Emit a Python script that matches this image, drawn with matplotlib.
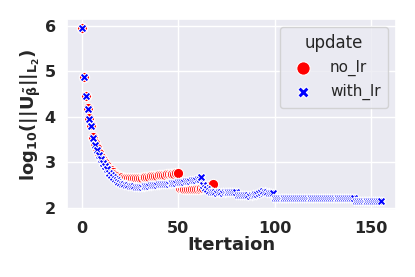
import matplotlib
matplotlib.use("Agg")
import matplotlib.pyplot as plt
import seaborn as sns

no_lr = [5.95, 4.88, 4.46, 4.18, 3.97, 3.82, 3.56, 3.42, 3.30, 3.20,
         3.12, 3.04, 2.97, 2.91, 2.86, 2.82, 2.78, 2.75, 2.72, 2.70,
         2.68, 2.67, 2.66, 2.66, 2.65, 2.65, 2.65, 2.65, 2.66, 2.66,
         2.66, 2.66, 2.67, 2.67, 2.68, 2.68, 2.69, 2.69, 2.70, 2.70,
         2.71, 2.71, 2.72, 2.72, 2.73, 2.73, 2.74, 2.74, 2.75, 2.76,
         2.77, 2.43, 2.43, 2.42, 2.42, 2.42, 2.41, 2.41, 2.41, 2.41,
         2.42, 2.42, 2.43, 2.44, 2.45, 2.46, 2.47, 2.49, 2.53]

with_lr = [5.95, 4.87, 4.45, 4.17, 3.95, 3.80, 3.53, 3.38, 3.26, 3.16,
           3.07, 2.99, 2.91, 2.84, 2.77, 2.72, 2.67, 2.63, 2.60, 2.57,
           2.55, 2.53, 2.52, 2.50, 2.49, 2.48, 2.47, 2.47, 2.46, 2.46,
           2.46, 2.46, 2.47, 2.47, 2.48, 2.48, 2.49, 2.49, 2.50, 2.50,
           2.51, 2.51, 2.52, 2.52, 2.53, 2.53, 2.54, 2.54, 2.55, 2.55,
           2.56, 2.56, 2.57, 2.57, 2.58, 2.58, 2.59, 2.60, 2.60, 2.61,
           2.62, 2.63, 2.67, 2.50, 2.44, 2.40, 2.37, 2.35, 2.34, 2.34,
           2.33, 2.34, 2.34, 2.33, 2.34, 2.34, 2.35, 2.34, 2.34, 2.35,
           2.35, 2.28, 2.27, 2.27, 2.27, 2.27, 2.27, 2.26, 2.27, 2.28,
           2.29, 2.31, 2.33, 2.35, 2.37, 2.35, 2.34, 2.33, 2.33, 2.32,
           2.21, 2.21, 2.21, 2.21, 2.21, 2.21, 2.21, 2.21, 2.21, 2.21,
           2.21, 2.21, 2.21, 2.21, 2.21, 2.21, 2.21, 2.21, 2.21, 2.21,
           2.21, 2.21, 2.21, 2.21, 2.21, 2.21, 2.21, 2.21, 2.21, 2.21,
           2.21, 2.21, 2.21, 2.21, 2.21, 2.21, 2.21, 2.21, 2.21, 2.21,
           2.21, 2.21, 2.15, 2.15, 2.15, 2.15, 2.15, 2.15, 2.15, 2.15,
           2.15, 2.15, 2.15, 2.15, 2.15, 2.14]

series_names = ["no_lr", "with_lr"]
series_vals = [no_lr, with_lr]
colors = ["red", "blue"]
markers = ["o", "X"]
sizes = [55, 40]

sns.set_theme(style="darkgrid")
plt.rcParams['font.family'] = ['DejaVu Sans']
plt.rcParams['mathtext.default'] = 'bf'

fig = plt.figure(figsize=(4.15, 2.77), dpi=100)
ax = fig.add_axes([0.161, 0.242, 0.793, 0.689])
for name, vals, c, m, s in zip(series_names, series_vals, colors, markers, sizes):
    ax.scatter(range(len(vals)), vals, c=c, marker=m, s=s,
               edgecolors='white', linewidths=0.8, label=name)

ax.set_xlabel("Itertaion", fontsize=13, fontweight='bold', labelpad=0)
ax.set_ylabel(r"log$_{10}$(||U$_{\tilde{\beta}}$||$_{L_2}$)", fontsize=13,
              fontweight='bold', labelpad=1)
ax.set_xticks([0, 50, 100, 150])
ax.set_yticks([2, 3, 4, 5, 6])
for lab in ax.get_xticklabels() + ax.get_yticklabels():
    lab.set_fontweight('bold')
    lab.set_fontsize(11.5)
ax.tick_params(axis='both', pad=2)

leg = ax.legend(title="update", loc="upper right", fontsize=11,
                title_fontsize=12, markerscale=1.3, borderpad=0.5)

fig.savefig("out.png", dpi=100)
